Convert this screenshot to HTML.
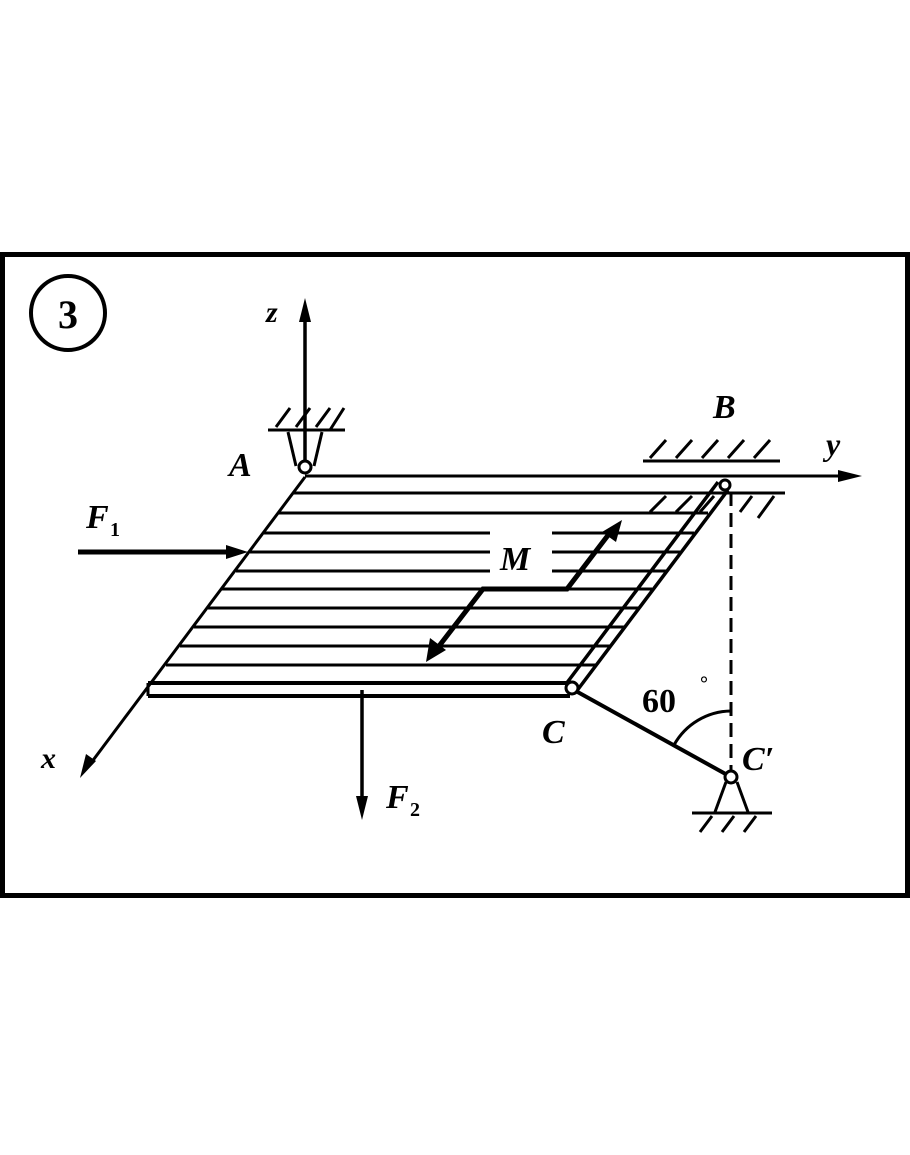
<!DOCTYPE html>
<html><head><meta charset="utf-8"><style>
html,body{margin:0;padding:0;background:#fff;}
svg{display:block;}
text{font-family:"Liberation Serif",serif;font-weight:bold;font-style:italic;fill:#000;}
</style></head><body>
<svg width="910" height="1155" viewBox="0 0 910 1155" xmlns="http://www.w3.org/2000/svg">
<rect x="2.5" y="254.5" width="905" height="641" fill="none" stroke="#000" stroke-width="5"/>
<circle cx="68" cy="313" r="37" fill="none" stroke="#000" stroke-width="4"/>
<text x="68" y="328" font-size="40" text-anchor="middle" style="font-style:normal">3</text>

<g stroke="#000" fill="none">
<g stroke-width="3">
<line x1="293" y1="493" x2="785" y2="493"/>
<line x1="278" y1="513" x2="708" y2="513"/>
<line x1="264" y1="533" x2="490" y2="533"/><line x1="552" y1="533" x2="694" y2="533"/>
<line x1="250" y1="552" x2="490" y2="552"/><line x1="552" y1="552" x2="680" y2="552"/>
<line x1="236" y1="571" x2="490" y2="571"/><line x1="552" y1="571" x2="666" y2="571"/>
<line x1="222" y1="589" x2="652" y2="589"/>
<line x1="208" y1="608" x2="638" y2="608"/>
<line x1="194" y1="627" x2="624" y2="627"/>
<line x1="180" y1="646" x2="610" y2="646"/>
<line x1="166" y1="665" x2="596" y2="665"/>
</g>
<line x1="305" y1="476" x2="850" y2="476" stroke-width="3"/>
<line x1="305" y1="477" x2="88" y2="767" stroke-width="3"/>
<line x1="148" y1="683" x2="570" y2="683" stroke-width="4"/>
<line x1="148" y1="696" x2="570" y2="696" stroke-width="4"/>
<line x1="148" y1="683" x2="148" y2="696" stroke-width="3"/>
<line x1="566" y1="684" x2="718" y2="482" stroke-width="3.5"/>
<line x1="576" y1="692" x2="728" y2="490" stroke-width="3.5"/>
<line x1="305" y1="462" x2="305" y2="318" stroke-width="3.5"/>
<line x1="268" y1="430" x2="345" y2="430" stroke-width="3"/>
<path d="M276 427 L290 408 M296 427 L310 408 M316 427 L330 408 M330 430 L344 408" stroke-width="3"/>
<path d="M296 466 L288 432 M314 466 L322 432" stroke-width="3"/>
<circle cx="305" cy="467" r="6" fill="#fff" stroke-width="3"/>
<line x1="643" y1="461" x2="780" y2="461" stroke-width="3"/>
<path d="M650 458 L666 440 M676 458 L692 440 M702 458 L718 440 M728 458 L744 440 M754 458 L770 440" stroke-width="3"/>
<path d="M650 512 L666 496 M676 512 L692 496 M700 512 L714 496 M740 512 L752 496 M758 518 L774 496" stroke-width="3"/>
<circle cx="725" cy="485" r="5" fill="#fff" stroke-width="3"/>
<line x1="731" y1="492" x2="731" y2="770" stroke-width="3" stroke-dasharray="14,7"/>
<line x1="574" y1="690" x2="731" y2="777" stroke-width="4"/>
<path d="M674 745 A66 66 0 0 1 731 711" stroke-width="3"/>
<path d="M726 782 L715 812 M737 782 L748 812" stroke-width="3"/>
<line x1="692" y1="813" x2="772" y2="813" stroke-width="3"/>
<path d="M700 832 L712 816 M722 832 L734 816 M744 832 L756 816" stroke-width="3"/>
<circle cx="731" cy="777" r="6" fill="#fff" stroke-width="3"/>
<circle cx="572" cy="688" r="6" fill="#fff" stroke-width="3"/>
<line x1="78" y1="552" x2="230" y2="552" stroke-width="5"/>
<line x1="362" y1="690" x2="362" y2="800" stroke-width="3.5"/>
<polyline points="436,650 483,589 567,589 612,530" stroke-width="5"/>
</g>
<g fill="#000">
<polygon points="305,298 299,322 311,322"/>
<polygon points="862,476 838,470 838,482"/>
<polygon points="80,778 86,754 96,761"/>
<polygon points="248,552 226,545 226,559"/>
<polygon points="362,820 356,796 368,796"/>
<polygon points="426,662 430,638 446,650"/>
<polygon points="622,520 602,532 616,542"/>
</g>

<text x="266" y="322" font-size="30">z</text>
<text x="229" y="476" font-size="34">A</text>
<text x="86" y="528" font-size="34">F</text><text x="110" y="536" font-size="20" style="font-style:normal">1</text>
<text x="500" y="570" font-size="34">M</text>
<text x="713" y="418" font-size="34">B</text>
<text x="826" y="455" font-size="32">y</text>
<text x="41" y="768" font-size="30">x</text>
<text x="386" y="808" font-size="34">F</text><text x="410" y="816" font-size="20" style="font-style:normal">2</text>
<text x="542" y="743" font-size="34">C</text>
<text x="742" y="770" font-size="34">C′</text>
<text x="642" y="712" font-size="34" style="font-style:normal">60</text>
<text x="700" y="690" font-size="20" style="font-style:normal">°</text>
</svg>
</body></html>
